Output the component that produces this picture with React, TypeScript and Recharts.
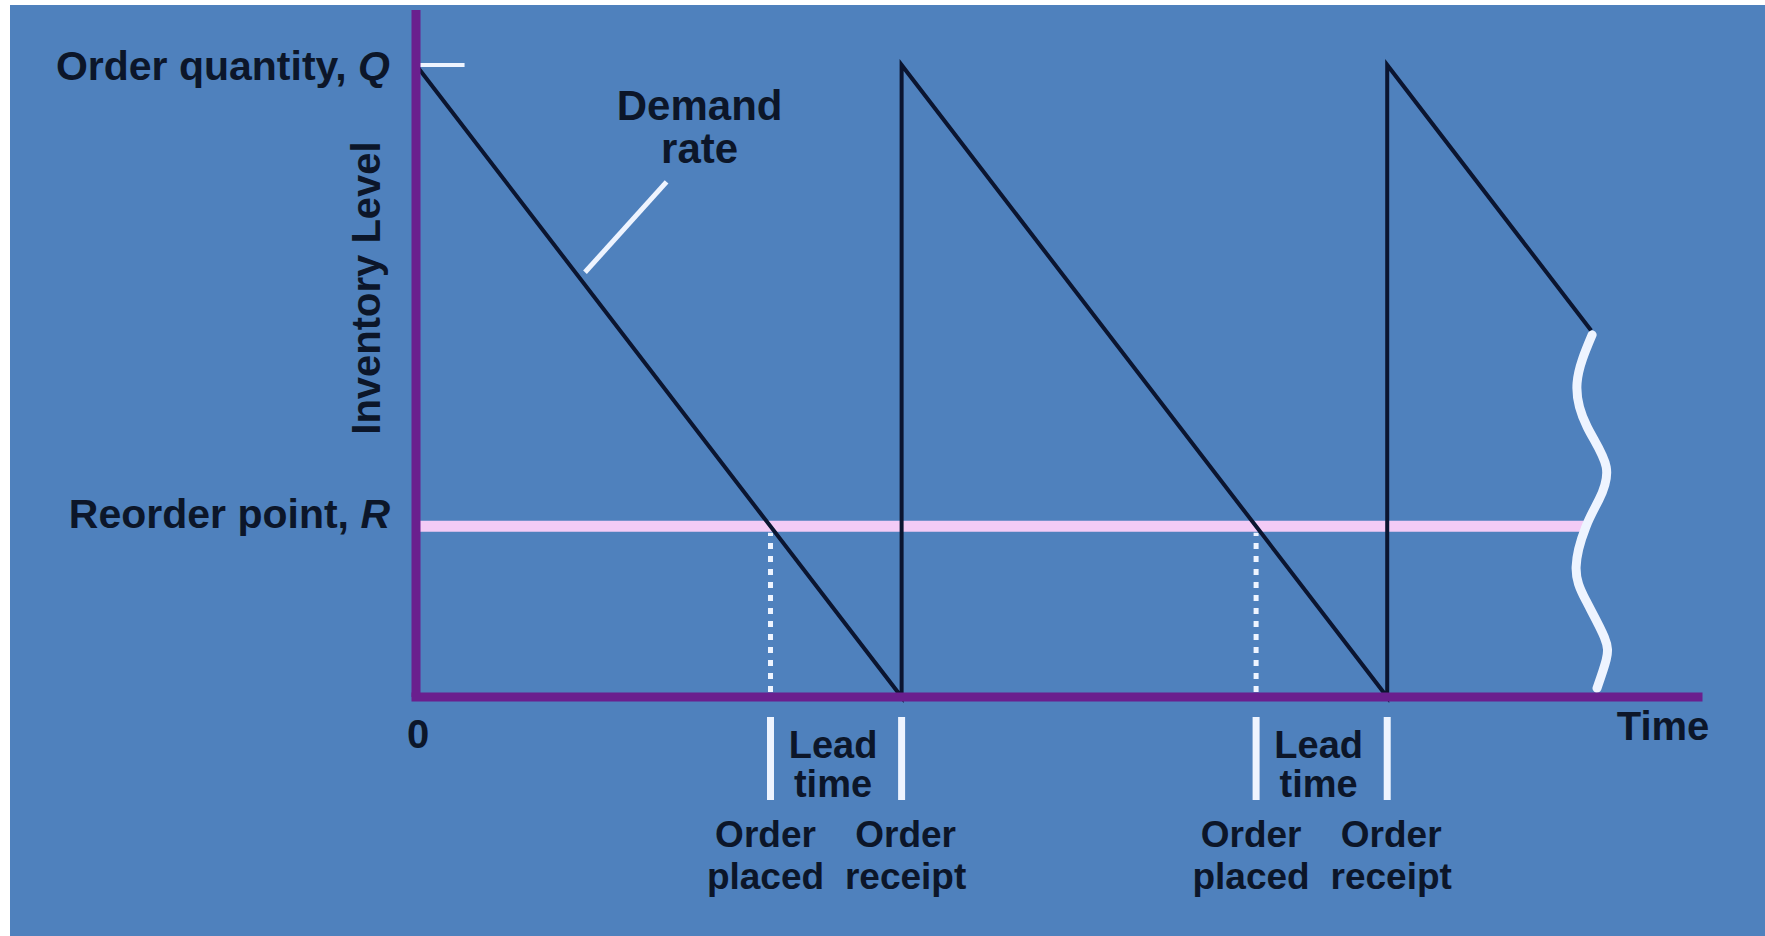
import { LineChart, Line, XAxis, YAxis, ReferenceLine, ReferenceDot } from "recharts";

// inventory model (time units, inventory level)
const orderQty = 100;
const reorderPoint = 27;

// sawtooth inventory level
const sawTime = [0, 10, 10, 20, 20, 24.2];
const sawLevel = [100, 0, 100, 0, 100, 58];

// order placed / order receipt moments
const placedTimes = [7.3, 17.3];
const receiptTimes = [10, 20];
const leadMids = placedTimes.map((p, i) => (p + receiptTimes[i]) / 2);

// wavy brace at the right end, bottom to top
const braceTime = [24.32, 24.51, 24.47, 24.09, 23.89, 24.09, 24.36, 24.51, 24.12, 23.91, 24.22];
const braceLevel = [1.4, 5.9, 9.5, 15.3, 20.6, 26.9, 31.2, 36.4, 42.7, 49.7, 57.3];

// leader line for "Demand rate"
const leaderTime = [3.48, 5.16];
const leaderLevel = [67.2, 81.5];
const demandLabelAt = { t: 5.84, level: 84.5 };

const xTicks = [0, ...placedTimes, ...leadMids, ...receiptTimes];
const yTicks = [reorderPoint, orderQty];

const sawData = sawTime.map((t, i) => ({ t, level: sawLevel[i] }));
const braceData = braceTime.map((t, i) => ({ t, level: braceLevel[i] }));

const FONT = "'Liberation Sans', Arial, sans-serif";
const INK = "#0c1629";
const PURPLE = "#6a1f8e";
const PINK = "#f3cbf6";
const WHITE = "#eef4ff";

const txt = { fontFamily: FONT, fontWeight: 700, fontSize: 40, fill: INK };

const TimeTick = (props: any) => {
  const { x, y, payload } = props;
  const v = payload.value;
  if (v === 0) {
    return (
      <text x={x + 2} y={y + 51} textAnchor="middle" {...txt}>
        0
      </text>
    );
  }
  if (leadMids.includes(v)) {
    return (
      <text textAnchor="middle" {...txt} fontSize={38}>
        <tspan x={x - 3} y={y + 61}>Lead</tspan>
        <tspan x={x - 3} y={y + 100}>time</tspan>
      </text>
    );
  }
  const placed = placedTimes.includes(v);
  const tx = placed ? x - 5 : x + 4;
  return (
    <g>
      <rect x={x - 3.5} y={y + 20} width={7} height={83} fill={WHITE} />
      <text textAnchor="middle" {...txt} fontSize={37}>
        <tspan x={tx} y={y + 150}>Order</tspan>
        <tspan x={tx} y={y + 192}>{placed ? "placed" : "receipt"}</tspan>
      </text>
    </g>
  );
};

const LevelTick = (props: any) => {
  const { x, y, payload } = props;
  const isQ = payload.value === orderQty;
  return (
    <text x={x - 26} y={isQ ? y + 15 : y + 2} textAnchor="end" {...txt} fontSize={41}>
      {isQ ? "Order quantity, " : "Reorder point, "}
      <tspan fontStyle="italic">{isQ ? "Q" : "R"}</tspan>
    </text>
  );
};

const InventoryLabel = (props: any) => {
  const vb = props.viewBox;
  const x = vb.x + vb.width - 36;
  const y = vb.y + 278;
  return (
    <text x={x} y={y} textAnchor="middle" transform={`rotate(-90, ${x}, ${y})`} {...txt}>
      Inventory Level
    </text>
  );
};

const TimeLabel = (props: any) => {
  const vb = props.viewBox;
  return (
    <text x={vb.x + vb.width - 35} y={vb.y + 43} textAnchor="middle" {...txt}>
      Time
    </text>
  );
};

const DemandLabel = (props: any) => {
  const vb = props.viewBox;
  const cx = vb.x + vb.width / 2;
  const cy = vb.y + vb.height / 2;
  return (
    <text textAnchor="middle" {...txt} fontSize={42}>
      <tspan x={cx} y={cy - 43}>Demand</tspan>
      <tspan x={cx} y={cy}>rate</tspan>
    </text>
  );
};

const App = () => {
  return (
    <div style={{ position: "absolute", left: 0, top: 0, width: 1765, height: 936, background: "#ffffff" }}>
      <div style={{ position: "absolute", left: 10, top: 5, right: 0, bottom: 0, background: "#4f81bd" }} />
      <div style={{ position: "absolute", left: 0, top: 0 }}>
        <LineChart width={1765} height={936} margin={{ top: 10, right: 67, bottom: 209, left: 356 }}>
          <XAxis
            type="number"
            dataKey="t"
            domain={[0, 26.4]}
            ticks={xTicks}
            interval={0}
            tick={<TimeTick />}
            tickLine={false}
            tickSize={0}
            tickMargin={0}
            height={30}
            axisLine={{ stroke: PURPLE, strokeWidth: 9, strokeLinecap: "square" }}
            label={<TimeLabel />}
          />
          <YAxis
            type="number"
            dataKey="level"
            domain={[0, 108.7]}
            ticks={yTicks}
            interval={0}
            tick={<LevelTick />}
            tickLine={false}
            tickSize={0}
            tickMargin={0}
            width={60}
            axisLine={{ stroke: PURPLE, strokeWidth: 9 }}
            label={<InventoryLabel />}
          />
          <ReferenceLine
            segment={[
              { x: 0, y: reorderPoint },
              { x: 24.05, y: reorderPoint },
            ]}
            stroke={PINK}
            strokeWidth={11}
          />
          {placedTimes.map((p) => (
            <ReferenceLine
              key={p}
              segment={[
                { x: p, y: 0.8 },
                { x: p, y: reorderPoint - 1 },
              ]}
              stroke={WHITE}
              strokeWidth={5}
              strokeDasharray="6 7"
            />
          ))}
          <ReferenceLine
            segment={[
              { x: 0, y: orderQty },
              { x: 1, y: orderQty },
            ]}
            stroke={WHITE}
            strokeWidth={4}
          />
          <ReferenceLine
            segment={[
              { x: leaderTime[0], y: leaderLevel[0] },
              { x: leaderTime[1], y: leaderLevel[1] },
            ]}
            stroke={WHITE}
            strokeWidth={5}
          />
          <ReferenceDot
            x={demandLabelAt.t}
            y={demandLabelAt.level}
            r={0}
            fill="none"
            stroke="none"
            label={<DemandLabel />}
          />
          <Line
            data={sawData}
            dataKey="level"
            type="linear"
            stroke="#0b1530"
            strokeWidth={4}
            dot={false}
            activeDot={false}
            isAnimationActive={false}
          />
          <Line
            data={braceData}
            dataKey="level"
            type="natural"
            stroke={WHITE}
            strokeWidth={9}
            strokeLinecap="round"
            dot={false}
            activeDot={false}
            isAnimationActive={false}
          />
        </LineChart>
      </div>
    </div>
  );
};

export default App;
